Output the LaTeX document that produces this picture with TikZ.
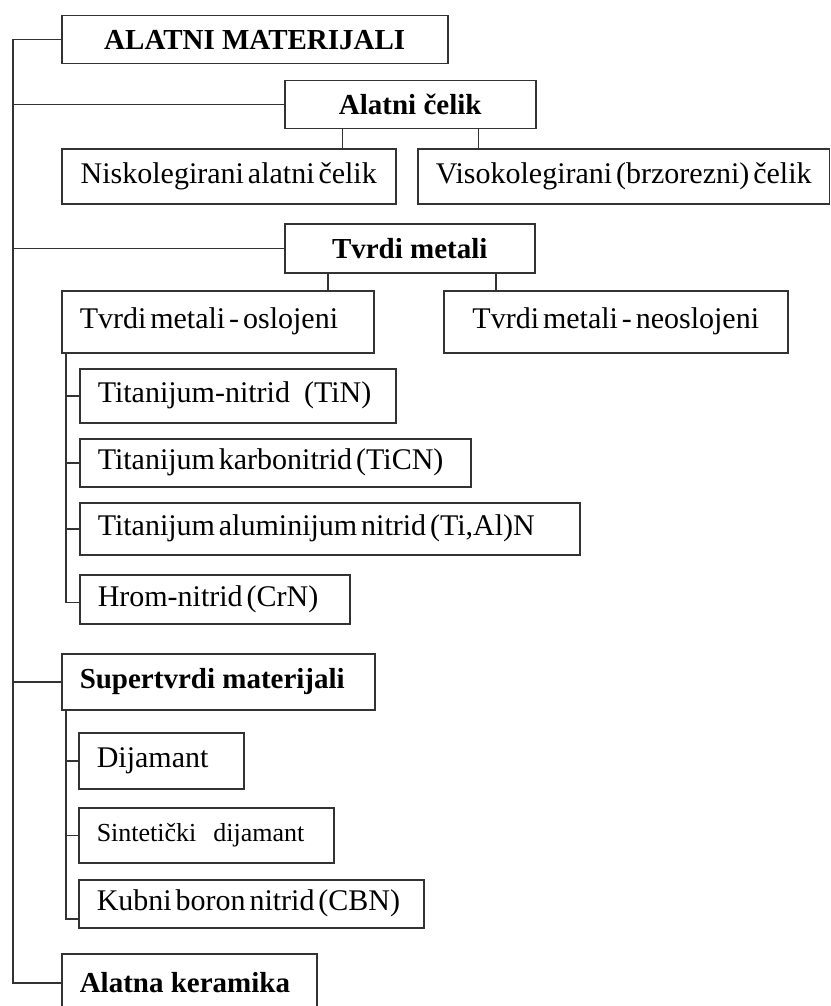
\documentclass[tikz,border=0pt]{standalone}
\usepackage{fontspec}
\setmainfont{Liberation Serif}
\usepackage{tikz}

\newcommand{\tightsp}{\spaceskip 0.13em plus 0.05em\relax\hyphenpenalty 10000\relax}

\begin{document}
\begin{tikzpicture}[
    x=1pt, y=1pt,
    frame/.style={draw=black!80, rectangle, anchor=north west, inner xsep=18pt, inner ysep=0pt, line width=1.5pt},
    box/.style={frame, font={\fontsize{30}{33}\selectfont}, execute at begin node=\tightsp},
    head/.style={frame, font={\fontsize{29}{32}\selectfont\bfseries}, execute at begin node={\spaceskip 0.25em\relax}},
    lbox/.style={box, align=left},
    link/.style={draw=black!80, line width=1.5pt}
]
    \useasboundingbox (0,0) rectangle (830,-1006);

    % Glavni cvorovi
    \node (mat) [head, minimum width=386pt, minimum height=48pt] at (61,-15) {ALATNI MATERIJALI};
    \node (celik) [head, minimum width=251pt, minimum height=48pt] at (284,-80) {Alatni čelik};
    \node (nisko) [box, minimum width=334pt, minimum height=55pt] at (61,-148) {Niskolegirani alatni čelik};
    \node (visoko) [box, minimum width=411pt, minimum height=55pt] at (417,-148) {Visokolegirani (brzorezni) čelik};

    \node (tvrdi) [head, minimum width=250pt, minimum height=49pt] at (284,-223) {Tvrdi metali};
    \node (oslojeni) [lbox, text width=276pt, minimum height=62pt] at (61,-290) {Tvrdi metali - oslojeni};
    \node (neoslojeni) [box, minimum width=344pt, minimum height=62pt] at (443,-290) {Tvrdi metali - neoslojeni};

    % Prevlake
    \node (tin) [lbox, text width=280pt, minimum height=54pt] at (79,-368) {Titanijum-nitrid\hspace{14pt}(TiN)};
    \node (ticn) [lbox, text width=355pt, minimum height=48pt] at (79,-438) {Titanijum karbonitrid (TiCN)};
    \node (tial) [lbox, text width=464pt, minimum height=52pt] at (79,-502) {Titanijum aluminijum nitrid (Ti,Al)N};
    \node (crn) [lbox, text width=234pt, minimum height=49pt] at (79,-574) {Hrom-nitrid (CrN)};

    % Supertvrdi materijali
    \node (super) [head, align=left, text width=277pt, minimum height=56pt] at (61,-653) {Supertvrdi materijali};
    \node (dij) [lbox, text width=129pt, minimum height=56pt] at (78,-732) {Dijamant};
    \node (sint) [lbox, text width=219pt, minimum height=55pt, font=\fontsize{26}{29}\selectfont] at (78,-807) {Sintetički\hspace{17pt}dijamant};
    \node (cbn) [lbox, text width=309pt, minimum height=48pt] at (78,-879) {Kubni boron nitrid (CBN)};

    \node (ker) [head, align=left, text width=219pt, minimum height=58pt] at (61,-953) {Alatna keramika};

    % Glavna linija
    \coordinate (trunk) at (13,0);
    \draw [link] (mat.west) -| (trunk |- ker.west) -- (ker.west);
    \draw [link] (celik.west) -- (trunk |- celik.west);
    \draw [link] (tvrdi.west) -- (trunk |- tvrdi.west);
    \draw [link] (super.west) -- (trunk |- super.west);

    % Alatni celik
    \draw [link] ([xshift=-68pt]celik.south) -- ([xshift=-68pt]celik.south |- nisko.north);
    \draw [link] ([xshift=68pt]celik.south) -- ([xshift=68pt]celik.south |- visoko.north);

    % Tvrdi metali
    \draw [link] ([xshift=-82pt]tvrdi.south) -- ([xshift=-82pt]tvrdi.south |- oslojeni.north);
    \draw [link] ([xshift=86pt]tvrdi.south) -- ([xshift=86pt]tvrdi.south |- neoslojeni.north);

    \coordinate (sub1) at ([xshift=5pt]oslojeni.south west);
    \draw [link] (sub1) |- ([yshift=-3pt]crn.west);
    \draw [link] (tin.west) -- (sub1 |- tin.west);
    \draw [link] (ticn.west) -- (sub1 |- ticn.west);
    \draw [link] (tial.west) -- (sub1 |- tial.west);

    % Supertvrdi
    \coordinate (sub2) at ([xshift=5pt]super.south west);
    \draw [link] (sub2) |- ([yshift=-15pt]cbn.west);
    \draw [link] (dij.west) -- (sub2 |- dij.west);
    \draw [link] (sint.west) -- (sub2 |- sint.west);

\end{tikzpicture}
\end{document}
